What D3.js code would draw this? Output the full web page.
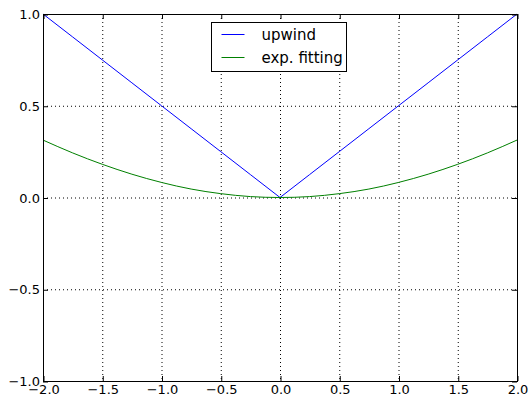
<!DOCTYPE html>
<html>
<head>
<meta charset="utf-8">
<script src="https://cdn.jsdelivr.net/npm/d3@7"></script>
<style>
  body { margin: 0; background: #fff; }
  text { font-family: "DejaVu Sans", sans-serif; }
</style>
</head>
<body>
<div id="chart"></div>
<script>
// Data
let xValues = [-2, -1.75, -1.5, -1.25, -1, -0.75, -0.5, -0.25, 0, 0.25, 0.5, 0.75, 1, 1.25, 1.5, 1.75, 2];
let upwind = [1, 0.875, 0.75, 0.625, 0.5, 0.375, 0.25, 0.125, 0, 0.125, 0.25, 0.375, 0.5, 0.625, 0.75, 0.875, 1];
let expFitting = [0.313, 0.243, 0.181, 0.127, 0.082, 0.046, 0.021, 0.005, 0, 0.005, 0.021, 0.046, 0.082, 0.127, 0.181, 0.243, 0.313];
let xTicks = [-2, -1.5, -1, -0.5, 0, 0.5, 1, 1.5, 2];
let yTicks = [-1, -0.5, 0, 0.5, 1];
let seriesNames = ["upwind", "exp. fitting"];
let seriesColors = ["#0000ff", "#008000"];

let svgWidth = 529, svgHeight = 397;
let plotLeft = 43, plotRight = 517, plotTop = 14, plotBottom = 381;

let svg = d3.select("#chart").append("svg")
  .attr("width", svgWidth)
  .attr("height", svgHeight);

let xScale = d3.scaleLinear().domain([-2, 2]).range([plotLeft, plotRight]);
let yScale = d3.scaleLinear().domain([-1, 1]).range([plotBottom, plotTop]);

// grid
svg.append("g").selectAll("line").data(xTicks).enter().append("line")
  .attr("x1", d => xScale(d) + 0.5).attr("x2", d => xScale(d) + 0.5)
  .attr("y1", plotTop).attr("y2", plotBottom)
  .attr("stroke", "#000").attr("stroke-width", 1).attr("stroke-dasharray", "1,3");
svg.append("g").selectAll("line").data(yTicks).enter().append("line")
  .attr("x1", plotLeft).attr("x2", plotRight)
  .attr("y1", d => yScale(d) + 0.5).attr("y2", d => yScale(d) + 0.5)
  .attr("stroke", "#000").attr("stroke-width", 1).attr("stroke-dasharray", "1,3");

// lines
let allSeries = [upwind, expFitting];
let line = d3.line()
  .x((d, i) => xScale(xValues[i]))
  .y(d => yScale(d));
svg.append("g").selectAll("path").data(allSeries).enter().append("path")
  .attr("d", (d, i) => i === 0 ? line.curve(d3.curveLinear)(d) : line.curve(d3.curveMonotoneX)(d))
  .attr("fill", "none")
  .attr("stroke", (d, i) => seriesColors[i])
  .attr("stroke-width", 1);

// ticks inside on all sides
let fmt = d => d < 0 ? "\u2212" + Math.abs(d).toFixed(1) : d.toFixed(1);
svg.append("g").attr("transform", `translate(0.5,${plotBottom})`)
  .call(d3.axisBottom(xScale).tickValues(xTicks).tickSizeInner(-5).tickSizeOuter(0).tickPadding(4).tickFormat(fmt))
  .call(g => g.select(".domain").remove());
svg.append("g").attr("transform", `translate(0.5,${plotTop})`)
  .call(d3.axisTop(xScale).tickValues(xTicks).tickSizeInner(-5).tickSizeOuter(0).tickFormat(""))
  .call(g => g.select(".domain").remove());
svg.append("g").attr("transform", `translate(${plotLeft},0.5)`)
  .call(d3.axisLeft(yScale).tickValues(yTicks).tickSizeInner(-5).tickSizeOuter(0).tickPadding(3).tickFormat(fmt))
  .call(g => g.select(".domain").remove());
svg.append("g").attr("transform", `translate(${plotRight},0.5)`)
  .call(d3.axisRight(yScale).tickValues(yTicks).tickSizeInner(-5).tickSizeOuter(0).tickFormat(""))
  .call(g => g.select(".domain").remove());
svg.selectAll(".tick text").attr("font-size", 13).attr("fill", "#000")
  .attr("font-family", "DejaVu Sans, sans-serif");
svg.selectAll(".tick line").attr("stroke", "#000");

// frame
svg.append("rect")
  .attr("x", plotLeft + 0.5).attr("y", plotTop + 0.5)
  .attr("width", plotRight - plotLeft).attr("height", plotBottom - plotTop)
  .attr("fill", "none").attr("stroke", "#000").attr("stroke-width", 1);

// legend
let legend = svg.append("g").attr("transform", "translate(211.5,22.5)");
legend.append("rect").attr("width", 135).attr("height", 49)
  .attr("fill", "#fff").attr("stroke", "#000").attr("stroke-width", 1);
let items = legend.selectAll("g.item").data(seriesNames).enter().append("g")
  .attr("class", "item")
  .attr("transform", (d, i) => `translate(0,${12 + i * 23})`);
items.append("line").attr("x1", 10).attr("x2", 33)
  .attr("stroke", (d, i) => seriesColors[i]).attr("stroke-width", 1);
items.append("text").attr("x", 50).attr("dy", "0.35em")
  .attr("font-size", 15).text(d => d);
</script>
</body>
</html>
